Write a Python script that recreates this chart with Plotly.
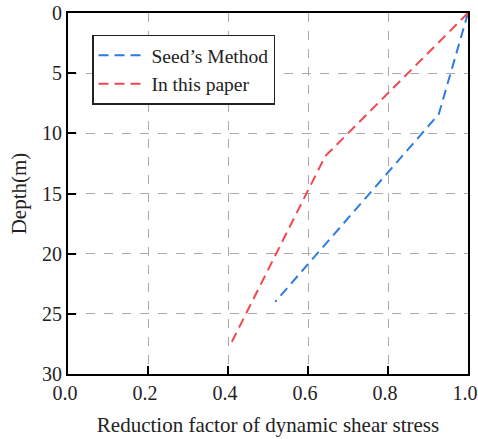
import plotly.graph_objects as go

seed_x = [1.0, 0.927, 0.518]
seed_depth = [0.0, 8.4, 24.0]
paper_x = [1.0, 0.643, 0.407]
paper_depth = [0.0, 11.9, 27.5]

x_ticks = [0.0, 0.2, 0.4, 0.6, 0.8, 1.0]
x_tick_text = ["0.0", "0.2", "0.4", "0.6", "0.8", "1.0"]
y_ticks = [0, 5, 10, 15, 20, 25, 30]

FONT = "Liberation Serif, Times New Roman, serif"

fig = go.Figure()
fig.add_trace(go.Scatter(x=seed_x, y=seed_depth, mode="lines", name="Seed\u2019s Method",
                         line=dict(color="#2f7be3", width=2, dash="10px,6px")))
fig.add_trace(go.Scatter(x=paper_x, y=paper_depth, mode="lines", name="In this paper",
                         line=dict(color="#f04850", width=2, dash="10px,6px")))

axis_common = dict(showline=True, linecolor="black", linewidth=2, mirror=True,
                   showgrid=True, gridcolor="#aaaaaa", gridwidth=1, griddash="dash",
                   ticks="inside", ticklen=8, tickwidth=2, tickcolor="black",
                   zeroline=False, ticklabeloverflow="allow",
                   tickfont=dict(family=FONT, size=20, color="#222"))

fig.update_xaxes(range=[0, 1], tickvals=x_ticks, ticktext=x_tick_text, ticklabelshift=-3,
                 automargin=False,
                 title=dict(text="Reduction factor of dynamic shear stress",
                            font=dict(family=FONT, size=21, color="#222"), standoff=14),
                 **axis_common)
fig.update_yaxes(range=[30, 0], tickvals=y_ticks, automargin="left",
                 title=dict(text="Depth(m)", font=dict(family=FONT, size=21, color="#222"), standoff=10),
                 **axis_common)

fig.update_layout(
    width=478, height=439,
    margin=dict(l=68, r=10, t=13, b=65),
    plot_bgcolor="white", paper_bgcolor="white",
    showlegend=True,
    legend=dict(x=0.06, y=0.94, xanchor="left", yanchor="top",
                bgcolor="white", bordercolor="#222", borderwidth=1.5,
                font=dict(family=FONT, size=19.5, color="#222"),
                itemwidth=48),
    font=dict(family=FONT),
)

fig.write_html("out.html")
